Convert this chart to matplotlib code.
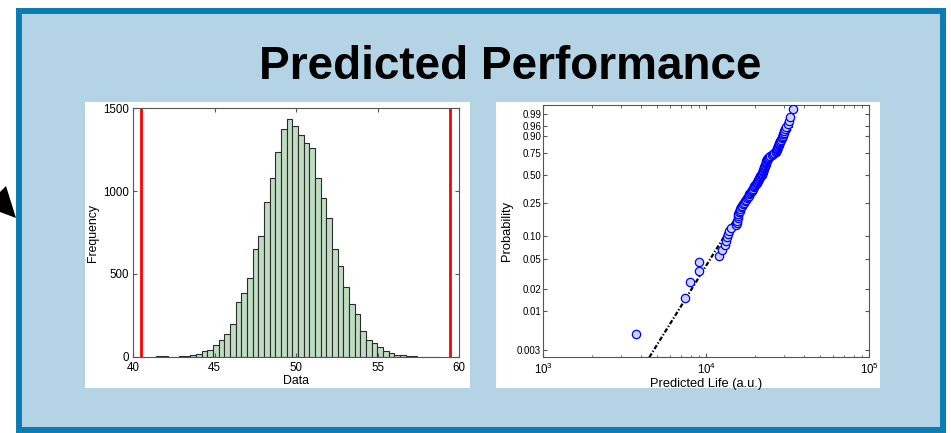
import numpy as np
import matplotlib
matplotlib.use('Agg')
import matplotlib.pyplot as plt
from matplotlib.patches import Rectangle, Polygon
from matplotlib.ticker import FixedLocator, NullLocator, LogLocator, LogFormatterMathtext

plt.rcParams['font.family'] = ['Liberation Sans', 'DejaVu Sans']

# histogram (left panel)
hist_lo, hist_hi, n_bins = 41.42, 58.82, 50
hist_counts = [2, 2, 0, 1, 2, 5, 12, 16, 33, 39,
               70, 99, 136, 196, 328, 383, 478, 648, 726, 932,
               1078, 1235, 1373, 1437, 1391, 1338, 1293, 1259, 1077, 957,
               835, 649, 545, 419, 316, 256, 155, 99, 85, 56,
               34, 24, 10, 8, 6, 2, 0, 1, 1, 1]
spec_limits = [40.5, 59.45]

# weibull probability plot (right panel), 100 sorted samples
life = [3680, 7430, 7940, 9020, 9080, 11900, 12500, 13000, 13150, 13400,
        13550, 13800, 14150, 15200, 15400, 15480, 15560, 15650, 15750, 15900,
        16050, 16200, 16400, 16580, 16800, 17050, 17270, 17500, 17800, 18050,
        18200, 18380, 18530, 18750, 18950, 19150, 19370, 19550, 19750, 19950,
        20150, 20350, 20500, 20650, 20800, 20980, 21140, 21300, 21500, 21750,
        21900, 22000, 22100, 22200, 22300, 22380, 22480, 22580, 22680, 22800,
        22900, 22980, 23080, 23160, 23240, 23330, 23420, 23580, 23780, 24000,
        24340, 24750, 25200, 25650, 26200, 26750, 26900, 27000, 27150, 27270,
        27420, 27580, 27750, 27900, 28050, 28250, 28500, 28750, 28980, 29150,
        29350, 29580, 29800, 30050, 30350, 30800, 31550, 32140, 32610, 33860]
fit_x = [4470, 33700]
fit_p = [0.0024, 0.955]
prob_ticks = [0.003, 0.01, 0.02, 0.05, 0.10, 0.25, 0.50, 0.75, 0.90, 0.96, 0.99]
prob_labels = ['0.003', '0.01', '0.02', '0.05', '0.10', '0.25', '0.50', '0.75', '0.90', '0.96', '0.99']

W, H = 951, 433
fig = plt.figure(figsize=(W / 100, H / 100), dpi=100)
fig.patch.set_facecolor('white')


def fx(px):
    return px / W


def fy(py):
    return 1 - py / H


# slide box
fig.add_artist(Rectangle((fx(19), fy(430)), fx(943) - fx(19), fy(11) - fy(430),
                         transform=fig.transFigure, facecolor='#b4d4e6',
                         edgecolor='#0b7cb2', linewidth=4.3, zorder=0))
# arrow head at the left edge
fig.add_artist(Polygon([[fx(0), fy(192)], [fx(6), fy(186)], [fx(16), fy(218)],
                        [fx(0), fy(212)]],
                       closed=True, transform=fig.transFigure, facecolor='black',
                       edgecolor='none', zorder=1))
# white panels
for x0, x1 in [(85, 470), (496, 880)]:
    fig.add_artist(Rectangle((fx(x0), fy(388)), fx(x1) - fx(x0), fy(102) - fy(388),
                             transform=fig.transFigure, facecolor='white',
                             edgecolor='none', zorder=1))

fig.text(fx(510.5), fy(79), 'Predicted Performance', ha='center', va='baseline',
         fontsize=33, fontweight='bold', color='black')

frame_col = '#555555'


def style_axes(ax, fs, xpad=3, ypad=1.5):
    for s in ax.spines.values():
        s.set_color(frame_col)
        s.set_linewidth(0.8)
    ax.tick_params(which='both', direction='in', top=True, right=True,
                   colors=frame_col, labelcolor='black', labelsize=fs)
    ax.tick_params(axis='x', which='both', pad=xpad)
    ax.tick_params(axis='y', which='both', pad=ypad)
    ax.tick_params(which='major', length=3)
    ax.tick_params(which='minor', length=1.8)


# left: histogram
ax1 = fig.add_axes([fx(133.3), fy(356.7), fx(459) - fx(133.3), fy(108.3) - fy(356.7)])
ax1.set_zorder(2)
edges = np.linspace(hist_lo, hist_hi, n_bins + 1)
ax1.bar(edges[:-1], hist_counts, width=np.diff(edges), align='edge',
        color='#bfdcc2', edgecolor='#2b2b2b', linewidth=0.8)
for xl in spec_limits:
    ax1.axvline(xl, color='#ff0000', linewidth=2.0)
ax1.set_xlim(40, 60)
ax1.set_ylim(0, 1500)
ax1.set_xticks([40, 45, 50, 55, 60])
ax1.set_yticks([0, 500, 1000, 1500])
ax1.set_xlabel('Data', fontsize=8.8, labelpad=1)
ax1.set_ylabel('Frequency', fontsize=8.8, labelpad=3)
style_axes(ax1, 8.3, xpad=3.5, ypad=3)

# right: weibull probability plot
ax2 = fig.add_axes([fx(543.3), fy(357.3), fx(869.3) - fx(543.3), fy(105) - fy(357.3)])
ax2.set_zorder(2)


def wb_fwd(p):
    p = np.clip(np.asarray(p, dtype=float), 1e-12, 1 - 1e-12)
    return np.log(-np.log(1 - p))


def wb_inv(w):
    return 1 - np.exp(-np.exp(np.asarray(w, dtype=float)))


ax2.set_xscale('log')
ax2.set_yscale('function', functions=(wb_fwd, wb_inv))
n = len(life)
ranks = np.arange(1, n + 1)
plot_pos = (ranks - 0.5) / n
ax2.plot(fit_x, fit_p, color='black', linewidth=1.6,
         linestyle=(0, (2.0, 0.9, 0.6, 0.9)), zorder=2)
ax2.plot(life, plot_pos, linestyle='none', marker='o', markersize=6.0,
         markerfacecolor='#cbd3f6', markeredgecolor='#0000ff', markeredgewidth=0.9,
         zorder=3)
ax2.set_xlim(1e3, 1e5)
ax2.set_ylim(0.0024, 0.99774)
ax2.yaxis.set_major_locator(FixedLocator(prob_ticks))
ax2.yaxis.set_minor_locator(NullLocator())
ax2.set_yticklabels(prob_labels)
ax2.xaxis.set_major_locator(LogLocator(base=10))
ax2.xaxis.set_major_formatter(LogFormatterMathtext())
ax2.xaxis.set_minor_locator(LogLocator(base=10, subs=np.arange(2, 10)))
ax2.set_xlabel('Predicted Life (a.u.)', fontsize=9.3, labelpad=1)
ax2.set_ylabel('Probability', fontsize=9.3, labelpad=3)
style_axes(ax2, 7.0)
ax2.tick_params(axis='x', labelsize=8.3)

fig.savefig('out.png', dpi=100, facecolor=fig.get_facecolor())
